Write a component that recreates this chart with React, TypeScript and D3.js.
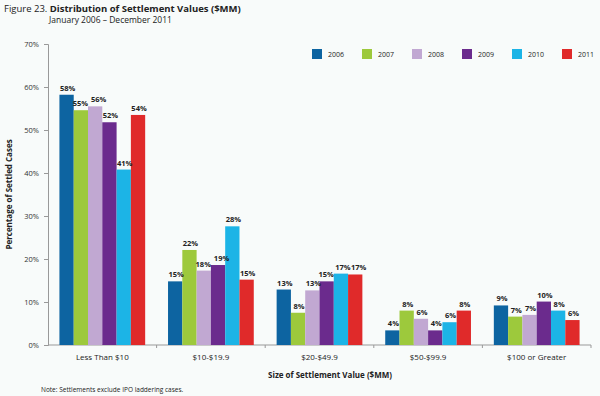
import React, { useEffect, useRef } from 'react';
import * as d3 from 'd3';

const categories = ['Less Than $10', '$10-$19.9', '$20-$49.9', '$50-$99.9', '$100 or Greater'];
const years = ['2006', '2007', '2008', '2009', '2010', '2011'];
const colors = ['#0d64a1', '#9dc93c', '#c1a8d2', '#6b2b8d', '#1cb4e6', '#e02a2a'];
// values per year, one entry per category
const v2006 = [58.2, 14.8, 12.9, 3.4, 9.2];
const v2007 = [54.6, 22.1, 7.5, 8.0, 6.6];
const v2008 = [55.5, 17.3, 12.7, 6.1, 7.0];
const v2009 = [51.8, 18.6, 14.8, 3.4, 10.1];
const v2010 = [40.8, 27.6, 16.6, 5.3, 8.0];
const v2011 = [53.5, 15.2, 16.4, 8.0, 5.8];
const series = [v2006, v2007, v2008, v2009, v2010, v2011];
const labels2006 = ['58%', '15%', '13%', '4%', '9%'];
const labels2007 = ['55%', '22%', '8%', '8%', '7%'];
const labels2008 = ['56%', '18%', '13%', '6%', '7%'];
const labels2009 = ['52%', '19%', '15%', '4%', '10%'];
const labels2010 = ['41%', '28%', '17%', '6%', '8%'];
const labels2011 = ['54%', '15%', '17%', '8%', '6%'];
const barLabels = [labels2006, labels2007, labels2008, labels2009, labels2010, labels2011];
const yTicks = [0, 10, 20, 30, 40, 50, 60, 70];

const font = "'Open Sans', 'DejaVu Sans', sans-serif";

const App = () => {
  const ref = useRef<SVGSVGElement>(null);

  useEffect(() => {
    const svg = d3.select(ref.current);
    svg.selectAll('*').remove();

    const left = 48, right = 591, top = 44, bottom = 345;

    svg.append('rect').attr('width', 600).attr('height', 396).attr('fill', '#f8fbfa');

    const x = d3.scaleBand().domain(categories).range([left, right]).paddingInner(0).paddingOuter(0);
    const x1 = d3.scaleBand().domain(years).range([0, x.bandwidth()]).paddingInner(0).paddingOuter(0.8);
    const y = d3.scaleLinear().domain([0, 70]).range([bottom, top]);

    // title
    svg.append('text').attr('x', 4).attr('y', 12).attr('font-family', font).attr('font-size', 9.5)
      .attr('fill', '#222')
      .call(t => {
        t.append('tspan').text('Figure 23. ');
        t.append('tspan').attr('font-weight', 'bold').text('Distribution of Settlement Values ($MM)');
      });
    svg.append('text').attr('x', 49).attr('y', 23).attr('font-family', font).attr('font-size', 8.5)
      .attr('fill', '#222').text('January 2006 \u2013 December 2011');

    // y axis
    const ya = svg.append('g').attr('transform', `translate(${left},0)`)
      .call(d3.axisLeft(y).tickValues(yTicks).tickSize(4).tickFormat(d => `${d}%`));
    ya.select('.domain').attr('stroke', '#999');
    ya.selectAll('line').attr('stroke', '#999');
    ya.selectAll('text').attr('font-family', font).attr('font-size', 7.5).attr('fill', '#333').attr('dx', -2);

    // x axis
    const xa = svg.append('g').attr('transform', `translate(0,${bottom})`);
    xa.append('line').attr('x1', left).attr('x2', right).attr('stroke', '#999');
    xa.selectAll('.sep').data(categories.slice(1)).enter().append('line')
      .attr('x1', d => x(d)!).attr('x2', d => x(d)!).attr('y1', 0).attr('y2', 3).attr('stroke', '#999');
    xa.append('line').attr('x1', right).attr('x2', right).attr('y1', 0).attr('y2', 3).attr('stroke', '#999');
    xa.selectAll('.cat').data(categories).enter().append('text')
      .attr('x', d => x(d)! + x.bandwidth() / 2).attr('y', 15).attr('text-anchor', 'middle')
      .attr('font-family', font).attr('font-size', 8).attr('fill', '#222').text(d => d);

    // bars
    years.forEach((yr, i) => {
      svg.append('g').selectAll('rect').data(series[i]).enter().append('rect')
        .attr('x', (d, j) => x(categories[j])! + x1(yr)!)
        .attr('y', d => y(d))
        .attr('width', x1.bandwidth())
        .attr('height', d => y(0) - y(d))
        .attr('fill', colors[i]);
    });

    // value labels, nudged apart when neighbours sit at nearly the same height
    const labelG = svg.append('g');
    categories.forEach((cat, j) => {
      const xs = years.map(yr => x(cat)! + x1(yr)! + x1.bandwidth() / 2 + 1);
      const ys = years.map((yr, i) => y(series[i][j]) - 4);
      for (let i = 1; i < years.length; i++) {
        if (Math.abs(ys[i] - ys[i - 1]) < 8 && barLabels[i][j].length + barLabels[i - 1][j].length >= 6) {
          xs[i - 1] -= 1.5;
          xs[i] += 2.5;
        }
      }
      years.forEach((yr, i) => {
        labelG.append('text')
          .attr('x', xs[i]).attr('y', ys[i])
          .attr('text-anchor', 'middle').attr('font-family', font).attr('font-size', 7.5)
          .attr('font-weight', 'bold').attr('fill', '#222')
          .text(barLabels[i][j]);
      });
    });

    // legend
    const legend = svg.append('g');
    years.forEach((yr, i) => {
      const lx = 312 + i * 50;
      legend.append('rect').attr('x', lx).attr('y', 49).attr('width', 10).attr('height', 10).attr('fill', colors[i]);
      legend.append('text').attr('x', lx + 16).attr('y', 57).attr('font-family', font).attr('font-size', 7)
        .attr('fill', '#222').text(yr);
    });

    // axis titles
    svg.append('text').attr('transform', `translate(12,${(top + bottom) / 2}) rotate(-90)`)
      .attr('text-anchor', 'middle').attr('font-family', font).attr('font-size', 8).attr('font-weight', 'bold')
      .attr('fill', '#222').text('Percentage of Settled Cases');
    svg.append('text').attr('x', 330).attr('y', 378).attr('text-anchor', 'middle')
      .attr('font-family', font).attr('font-size', 8).attr('font-weight', 'bold').attr('fill', '#222')
      .text('Size of Settlement Value ($MM)');
    svg.append('text').attr('x', 41).attr('y', 392).attr('font-family', font).attr('font-size', 6.5)
      .attr('fill', '#222').text('Note: Settlements exclude IPO laddering cases.');
  }, []);

  return <svg ref={ref} width={600} height={396} style={{ position: 'absolute', left: 0, top: 0 }} />;
};

export default App;
